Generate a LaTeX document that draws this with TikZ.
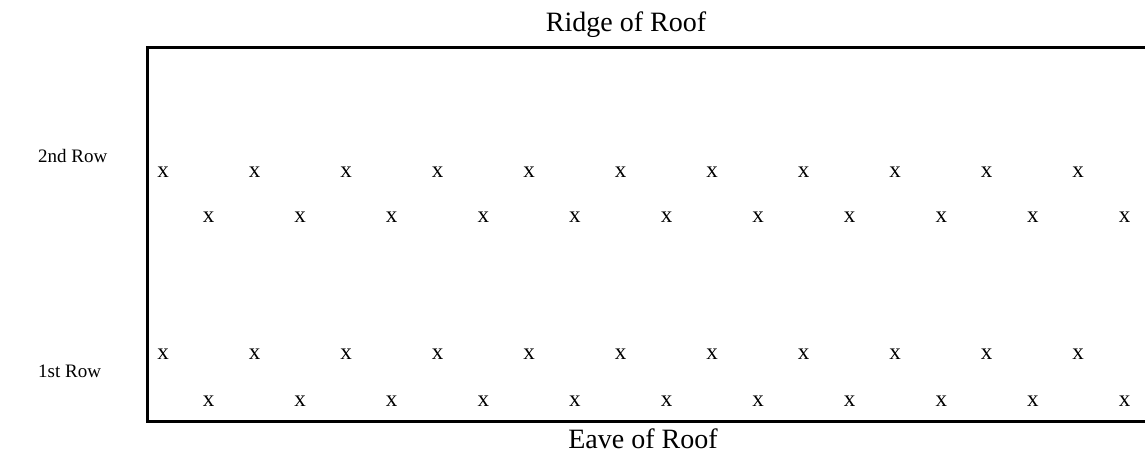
\documentclass[tikz,border=0pt]{standalone}
\usepackage{fontspec}
\setmainfont{Liberation Serif}

\tikzset{
  roofline/.style={line width=3pt},
  rowlabel/.style={anchor=base west, inner sep=0pt, font=\fontsize{19}{23}\selectfont},
  edgelabel/.style={anchor=base, inner sep=0pt, font=\fontsize{28}{32}\selectfont},
  mark x/.style={anchor=base, inner sep=0pt, font=\fontsize{23}{27}\selectfont}
}

\begin{document}
\begin{tikzpicture}[x=1pt, y=-1pt]

      \useasboundingbox (0,0) rectangle (1145,455);

      \coordinate (TL) at (147,47);
      \coordinate (TR) at (1145,47);
      \coordinate (BL) at (147,421);
      \coordinate (BR) at (1145,421);
      \draw[roofline] (TR) -- (TL) -- (BL) -- (BR);

      \node[edgelabel] (ridge) at (626,31) {Ridge of Roof};
      \node[edgelabel] (eave) at (643,448) {Eave of Roof};
      \node[rowlabel] (second) at (38,162) {2nd Row};
      \node[rowlabel] (first) at (38,377) {1st Row};

      % staggered rows of x marks
      \foreach \i in {0,...,10} {
        \node[mark x] (twoa\i) at (163+91.5*\i,177) {x};
        \node[mark x] (twob\i) at (208.5+91.6*\i,222) {x};
        \node[mark x] (onea\i) at (163+91.5*\i,359) {x};
        \node[mark x] (oneb\i) at (208.5+91.6*\i,406) {x};
      }
    \end{tikzpicture}
\end{document}
